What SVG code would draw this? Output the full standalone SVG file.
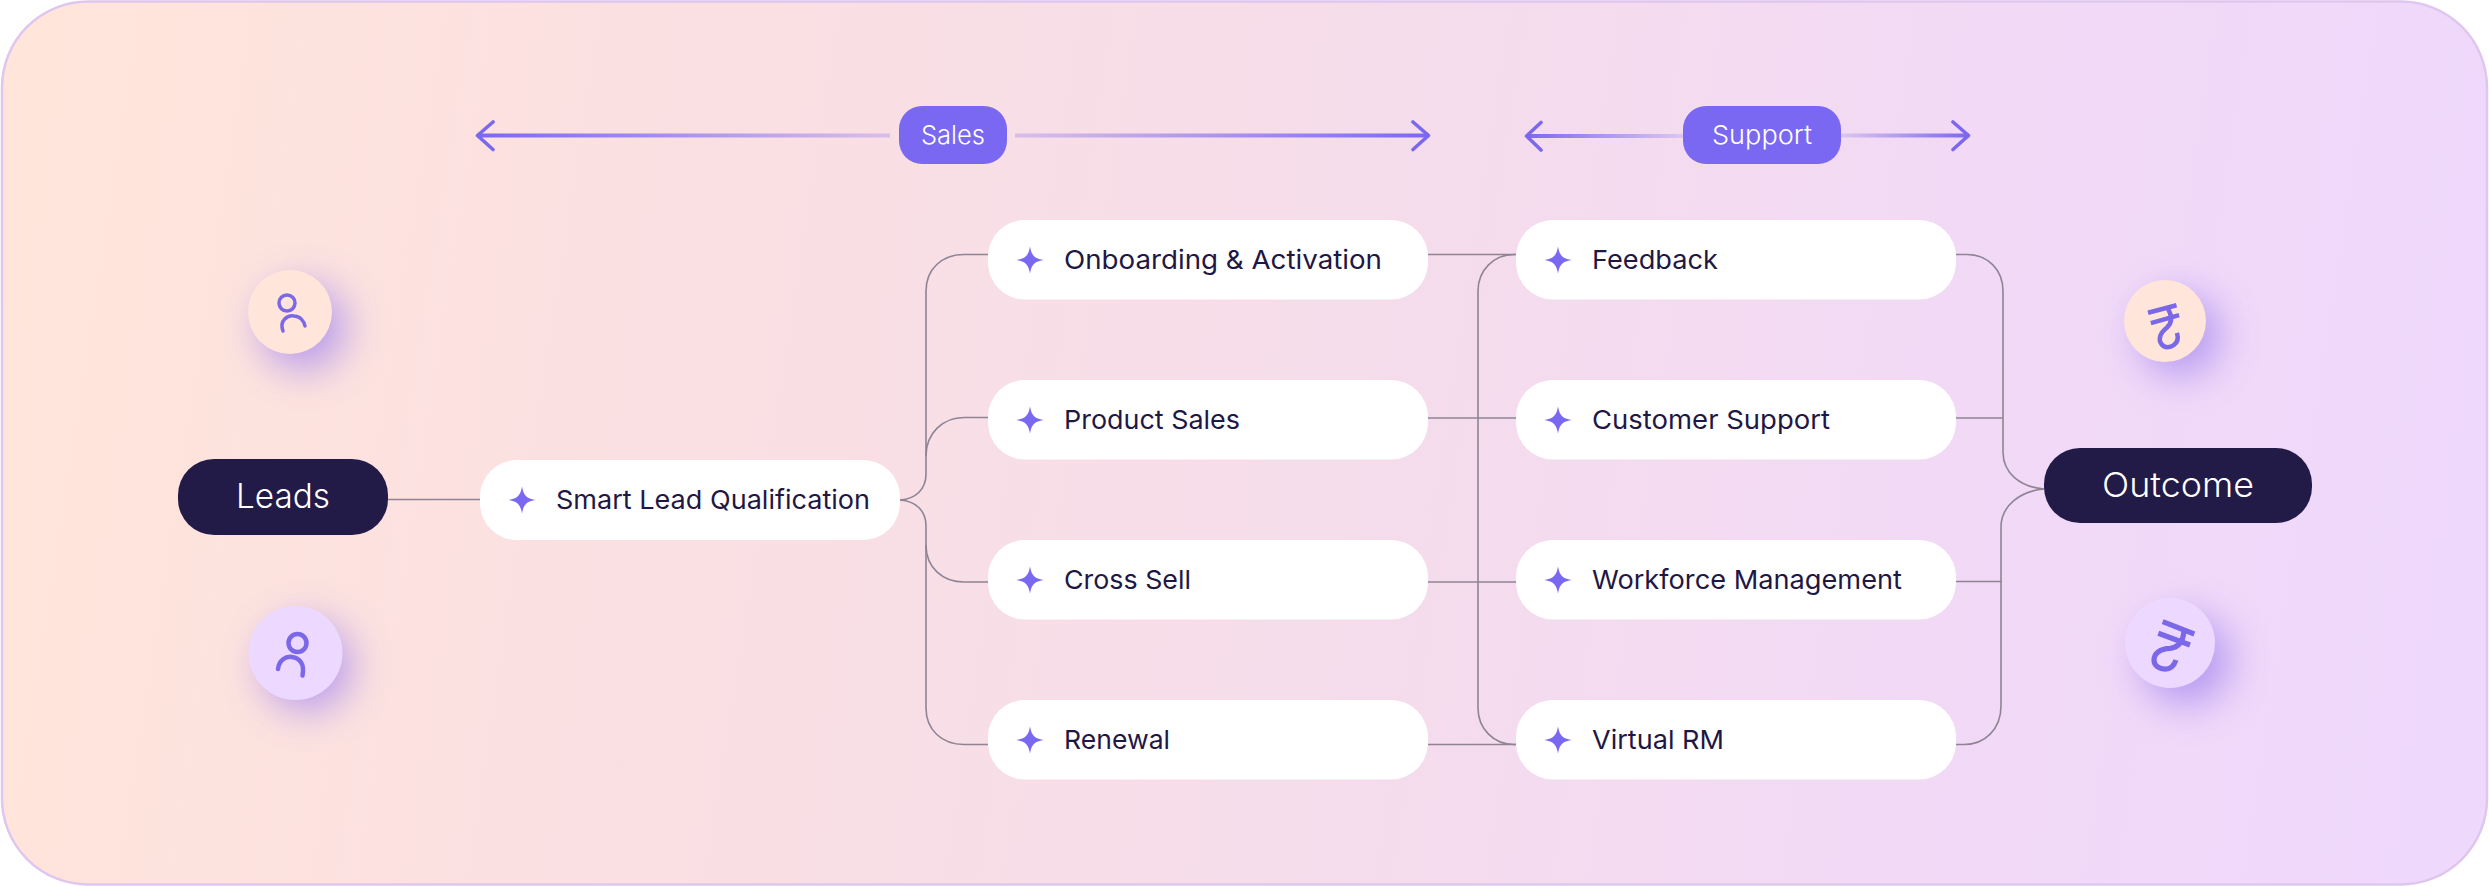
<svg xmlns="http://www.w3.org/2000/svg" width="2489" height="886" viewBox="0 0 2489 886">
<style>
text{font-family:"Inter","Liberation Sans",sans-serif}
.item{fill:#fff}
.dark{fill:#221A47}
.lbl{font-size:26px;fill:#1F1744;font-weight:380}
.big{font-size:34px;fill:#fff;text-anchor:middle;font-weight:300}
.tag{font-size:26px;fill:#fff;text-anchor:middle;font-weight:300}
.tagbg{fill:#7B68F2}
.star{fill:#7B68F2}
.conn{fill:none;stroke:#8E8494;stroke-width:1.6}
.arrow{fill:none;stroke:#7B68EE;stroke-width:3.6;stroke-linecap:round;stroke-linejoin:round}
.icon{fill:none;stroke:#7B68E8;stroke-linecap:round}
.rup{fill:none;stroke:#7B68E8;stroke-width:5.200}
.glow{fill:#A98CF0;filter:url(#blur);opacity:.85}
</style>
<defs>
<linearGradient id="bg" x1="0" y1="250" x2="2489" y2="636" gradientUnits="userSpaceOnUse">
<stop offset="0" stop-color="#FFE5DA"/><stop offset="0.25" stop-color="#FBE0E2"/><stop offset="0.5" stop-color="#F6DDE9"/><stop offset="0.75" stop-color="#F2DAF5"/><stop offset="1" stop-color="#EED8FC"/>
</linearGradient>
<linearGradient id="g1" x1="477" y1="0" x2="890" y2="0" gradientUnits="userSpaceOnUse"><stop offset="0" stop-color="#7B68EE"/><stop offset="1" stop-color="#D9BEEA"/></linearGradient>
<linearGradient id="g2" x1="1429" y1="0" x2="1015" y2="0" gradientUnits="userSpaceOnUse"><stop offset="0" stop-color="#7B68EE"/><stop offset="1" stop-color="#D9BEEA"/></linearGradient>
<linearGradient id="g3" x1="1526" y1="0" x2="1683" y2="0" gradientUnits="userSpaceOnUse"><stop offset="0" stop-color="#7B68EE"/><stop offset="1" stop-color="#DCC6F0"/></linearGradient>
<linearGradient id="g4" x1="1969" y1="0" x2="1841" y2="0" gradientUnits="userSpaceOnUse"><stop offset="0" stop-color="#7B68EE"/><stop offset="1" stop-color="#DCC6F0"/></linearGradient>
<filter id="blur" x="-120%" y="-120%" width="340%" height="340%"><feGaussianBlur stdDeviation="20"/></filter>
<path id="sp" d="M0-13.5C1.5-4.5 4.5-1.500 13.5 0 4.5 1.5 1.5 4.5 0 13.5-1.5 4.5-4.5 1.5-13.5 0-4.5-1.5-1.5-4.5 0-13.5Z"/>
<path id="rupee" d="M0 0L31.600 12.300M-4.400 11.600L27.300 23.300M21.300 9C20.600 18.300 17.300 25.600 7.300 26.600-2.700 27-8.700 31.600-8.700 38.300-8.700 44.600-2.700 47.500 2.300 47.500 8 47.500 11.300 44.300 13.300 38.300"/>
</defs>
<rect id="background" x="2" y="1.5" width="2485" height="883" rx="86" fill="url(#bg)" stroke="#DFC6EE" stroke-width="2.5"/>

<g id="connectors">
<path class="conn" d="M388 499.5H480"/>
<path class="conn" d="M900 500C916 499 926 489 926 474V291C926 269 942 254.5 964 254.5H988"/>
<path class="conn" d="M926 456C926 433 943 417.5 964 417.5H988"/>
<path class="conn" d="M900 500C916 501 926 511 926 526V708C926 730 942 744.5 964 744.5H988"/>
<path class="conn" d="M926 545C926 568 943 582 964 582H988"/>
<path class="conn" d="M1428 254.5H1516M1428 418H1516M1428 582H1516M1428 744.5H1516"/>
<path class="conn" d="M1516 254.5H1514C1494 254.5 1478 270 1478 291V708C1478 729 1494 744.5 1514 744.5H1516"/>
<path class="conn" d="M1956 254.5H1967C1988 254.5 2003 270 2003 291V452C2003 473 2020 487 2044 489"/>
<path class="conn" d="M1956 418H2003"/>
<path class="conn" d="M2044 489C2020 491 2001 506 2001 527V706C2001 729 1985 744.5 1964 744.5H1956"/>
<path class="conn" d="M1956 581.5H2002"/>
</g>

<g id="sales-header">
<path d="M477 135.500H890" fill="none" stroke="url(#g1)" stroke-width="4"/>
<path d="M1015 135.500H1429" fill="none" stroke="url(#g2)" stroke-width="4"/>
<path class="arrow" d="M493 122L477.500 135.500 493 149.500M1413 122L1428.500 135.500 1413 149.500"/>
<rect class="tagbg" x="899" y="106" width="108" height="58" rx="23"/>
<text class="tag" x="953" y="144" textLength="64" lengthAdjust="spacingAndGlyphs">Sales</text>
</g>
<g id="support-header">
<path d="M1526 136H1684" fill="none" stroke="url(#g3)" stroke-width="4"/>
<path d="M1840 135.500H1969" fill="none" stroke="url(#g4)" stroke-width="4"/>
<path class="arrow" d="M1541 122.500L1526.500 136 1541 150M1953 122L1968.500 135.500 1953 149.500"/>
<rect class="tagbg" x="1683" y="106" width="158" height="58" rx="23"/>
<text class="tag" x="1762" y="144" textLength="100" lengthAdjust="spacingAndGlyphs">Support</text>
</g>

<g id="lead-icon-1">
<circle class="glow" cx="303" cy="327" r="42"/>
<circle cx="290" cy="312" r="42" fill="#FFE5DA"/>
<circle class="icon" cx="287" cy="303" r="8" stroke-width="3.500"/>
<path class="icon" stroke-width="3.500" d="M283 331C279 320 288 315 294 316 300 316 304 321 305 326"/>
</g>
<g id="lead-icon-2">
<circle class="glow" cx="307" cy="666" r="44"/>
<circle cx="295.500" cy="653" r="47" fill="#EDD9FF"/>
<circle class="icon" cx="297.500" cy="643" r="9" stroke-width="4.500"/>
<path class="icon" stroke-width="4.500" d="M278 669C279 660 286 656 292 657 299 658 305 663 302.500 675.500"/>
</g>
<g id="outcome-icon-1">
<circle class="glow" cx="2180" cy="335" r="40"/>
<circle cx="2165" cy="321" r="41" fill="#FFE5DA"/>
<use class="rup" href="#rupee" transform="translate(2148 312.700) rotate(-36) scale(.87)"/>
</g>
<g id="outcome-icon-2">
<circle class="glow" cx="2186" cy="660" r="44"/>
<circle cx="2170" cy="643" r="45" fill="#EDD9FF"/>
<use class="rup" href="#rupee" transform="translate(2162.700 621.700)"/>
</g>

<g id="leads"><rect class="dark" x="178" y="459" width="210" height="76" rx="36"/><text class="big" x="283" y="508" textLength="94" lengthAdjust="spacingAndGlyphs">Leads</text></g>
<g id="outcome"><rect class="dark" x="2044" y="448" width="268" height="75" rx="36"/><text class="big" x="2178" y="497" textLength="152" lengthAdjust="spacingAndGlyphs">Outcome</text></g>

<g id="smart-lead-qualification"><rect class="item" x="480" y="460" width="420" height="80" rx="37"/><use class="star" href="#sp" x="522" y="500"/><text class="lbl" x="556" y="509" textLength="314" lengthAdjust="spacingAndGlyphs">Smart Lead Qualification</text></g>

<g id="onboarding"><rect class="item" x="988" y="220" width="440" height="79.500" rx="37"/><use class="star" href="#sp" x="1030" y="260"/><text class="lbl" x="1064" y="268.500" textLength="318" lengthAdjust="spacingAndGlyphs">Onboarding &amp; Activation</text></g>
<g id="product-sales"><rect class="item" x="988" y="380" width="440" height="79.500" rx="37"/><use class="star" href="#sp" x="1030" y="420"/><text class="lbl" x="1064" y="428.500" textLength="176" lengthAdjust="spacingAndGlyphs">Product Sales</text></g>
<g id="cross-sell"><rect class="item" x="988" y="540" width="440" height="79.500" rx="37"/><use class="star" href="#sp" x="1030" y="580"/><text class="lbl" x="1064" y="588.500" textLength="127" lengthAdjust="spacingAndGlyphs">Cross Sell</text></g>
<g id="renewal"><rect class="item" x="988" y="700" width="440" height="79.500" rx="37"/><use class="star" href="#sp" x="1030" y="740"/><text class="lbl" x="1064" y="748.500" textLength="106" lengthAdjust="spacingAndGlyphs">Renewal</text></g>

<g id="feedback"><rect class="item" x="1516" y="220" width="440" height="79.500" rx="37"/><use class="star" href="#sp" x="1558" y="260"/><text class="lbl" x="1592" y="268.500" textLength="126" lengthAdjust="spacingAndGlyphs">Feedback</text></g>
<g id="customer-support"><rect class="item" x="1516" y="380" width="440" height="79.500" rx="37"/><use class="star" href="#sp" x="1558" y="420"/><text class="lbl" x="1592" y="428.500" textLength="238" lengthAdjust="spacingAndGlyphs">Customer Support</text></g>
<g id="workforce-management"><rect class="item" x="1516" y="540" width="440" height="79.500" rx="37"/><use class="star" href="#sp" x="1558" y="580"/><text class="lbl" x="1592" y="588.500" textLength="310" lengthAdjust="spacingAndGlyphs">Workforce Management</text></g>
<g id="virtual-rm"><rect class="item" x="1516" y="700" width="440" height="79.500" rx="37"/><use class="star" href="#sp" x="1558" y="740"/><text class="lbl" x="1592" y="748.500" textLength="132" lengthAdjust="spacingAndGlyphs">Virtual RM</text></g>
</svg>
